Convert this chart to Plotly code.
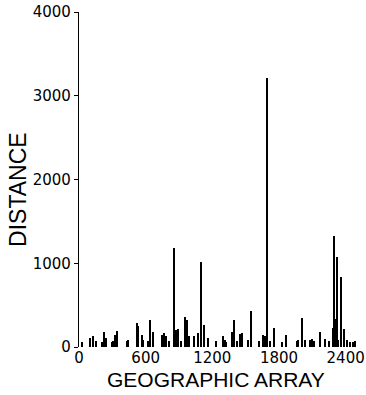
import plotly.graph_objects as go

# Geographic array positions and distances
positions = [31, 103, 126, 153, 207, 229, 247, 297, 310, 324, 342, 432, 445, 521, 535, 566, 580, 620,
             643, 672, 746, 764, 782, 809, 857, 877, 890, 923, 959, 971, 989, 1034, 1070, 1097, 1124, 1160, 1234,
             1295, 1313, 1326, 1375, 1393, 1420, 1454, 1470, 1519, 1546, 1618, 1654, 1672, 1690, 1717, 1753, 1825, 1861,
             1960, 1972, 2005, 2032, 2077, 2095, 2113, 2167, 2212, 2248, 2284, 2293, 2302, 2320, 2331, 2356, 2383,
             2410, 2437, 2464, 2482]
distances = [55, 107, 135, 67, 55, 183, 107, 55, 67, 143, 190, 67, 80, 282, 246, 143, 87, 67,
             325, 175, 147, 167, 127, 67, 1180, 206, 214, 67, 353, 325, 127, 127, 167, 1020, 262, 107, 75,
             127, 87, 60, 183, 325, 67, 159, 167, 80, 429, 67, 147, 127, 3210, 75, 222, 60, 143,
             67, 80, 349, 80, 80, 95, 67, 183, 95, 67, 226, 1320, 333, 1070, 87, 830, 214,
             87, 55, 60, 67]

x_ticks = [0, 600, 1200, 1800, 2400]
y_ticks = [0, 1000, 2000, 3000, 4000]

fig = go.Figure()
fig.add_trace(go.Bar(x=positions, y=distances, width=14,
                     marker=dict(color="black", line=dict(width=0))))

tick_font = dict(family="DejaVu Sans", size=15, color="black")
xtitle_font = dict(family="Liberation Sans, Arial", size=21, color="black")
ytitle_font = dict(family="Liberation Sans, Arial", size=23, color="black")

fig.update_layout(
    width=366, height=395,
    margin=dict(l=79, r=7, t=12, b=48, autoexpand=False),
    paper_bgcolor="white", plot_bgcolor="white",
    showlegend=False, bargap=0,
    xaxis=dict(range=[0, 2520], tickvals=x_ticks, ticktext=[str(v) for v in x_ticks],
               showgrid=False, zeroline=False, showline=False, ticks="",
               tickfont=tick_font, fixedrange=True, automargin=False),
    yaxis=dict(range=[0, 4000], tickvals=y_ticks, ticktext=[str(v) for v in y_ticks],
               showgrid=False, zeroline=False, showline=True, linecolor="black", linewidth=1.2,
               ticks="outside", ticklen=4, tickwidth=1, tickcolor="black",
               tickfont=tick_font, fixedrange=True, automargin=False),
    annotations=[
        dict(text="GEOGRAPHIC ARRAY", xref="paper", yref="paper", x=0.49, y=-0.098,
             xanchor="center", yanchor="middle", showarrow=False, font=xtitle_font),
        dict(text="DISTANCE", xref="paper", yref="paper", x=-0.22, y=0.47,
             xanchor="center", yanchor="middle", textangle=-90, showarrow=False, font=ytitle_font),
    ],
)

fig.write_html("out.html", config={"displayModeBar": False},
               post_script="document.body.style.margin='0';document.body.style.overflow='hidden';")
